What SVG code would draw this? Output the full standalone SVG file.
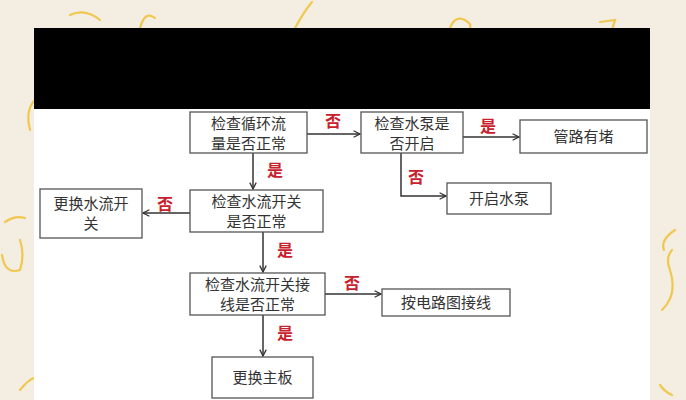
<svg xmlns="http://www.w3.org/2000/svg" width="686" height="400" viewBox="0 0 686 400">
<defs>
<marker id="ah" viewBox="0 0 10 10" refX="9" refY="5" markerWidth="8" markerHeight="8" markerUnits="userSpaceOnUse" orient="auto">
<path d="M1,1 L9,5 L1,9" fill="none" stroke="#333" stroke-width="1.6"/>
</marker>
<style>
.box{fill:#fff;stroke:#555;stroke-width:1.3}
.t{font-family:"Noto Sans CJK SC","Liberation Sans",sans-serif;font-size:15px;fill:#333;text-anchor:middle}
.lbl{font-family:"Noto Sans CJK SC","Liberation Sans",sans-serif;font-size:16px;font-weight:bold;fill:#c8202c;text-anchor:middle}
.c{fill:none;stroke:#333;stroke-width:1.5}
.sq{fill:none;stroke:#f0c850;stroke-width:2.2;stroke-linecap:round}
</style>
</defs>
<rect width="686" height="400" fill="#f3ede2"/>
<g id="squiggles">
<path class="sq" d="M70,15 Q85,8 100,20"/>
<path class="sq" d="M140,28 Q145,10 155,18"/>
<path class="sq" d="M295,28 Q305,10 312,2"/>
<path class="sq" d="M450,28 Q455,15 465,20 Q472,24 470,28"/>
<path class="sq" d="M600,22 L615,20 L612,30"/>
<path class="sq" d="M30,130 Q25,110 35,100"/>
<path class="sq" d="M5,222 Q15,215 25,218"/>
<path class="sq" d="M2,255 Q5,275 20,270 Q25,255 20,240"/>
<path class="sq" d="M20,390 Q28,380 34,378"/>
<path class="sq" d="M672,250 Q665,258 670,270 Q678,295 662,310"/>
<path class="sq" d="M675,230 Q660,240 664,250"/>
<path class="sq" d="M660,385 Q665,392 672,395"/>
</g>
<rect x="34" y="28" width="616" height="372" fill="#fff"/>
<rect x="34" y="28" width="616" height="81" fill="#000"/>
<g id="connectors">
<line class="c" x1="307" y1="134" x2="360" y2="134" marker-end="url(#ah)"/>
<line class="c" x1="463" y1="137" x2="519" y2="137" marker-end="url(#ah)"/>
<polyline class="c" points="401,153 401,196 446,196" marker-end="url(#ah)"/>
<line class="c" x1="253" y1="153" x2="253" y2="189" marker-end="url(#ah)"/>
<line class="c" x1="190" y1="213" x2="143" y2="213" marker-end="url(#ah)"/>
<line class="c" x1="263" y1="232" x2="263" y2="272" marker-end="url(#ah)"/>
<line class="c" x1="325" y1="294" x2="381" y2="294" marker-end="url(#ah)"/>
<line class="c" x1="263" y1="315" x2="263" y2="356" marker-end="url(#ah)"/>
<text class="lbl" x="333" y="127">否</text>
<text class="lbl" x="488" y="132">是</text>
<text class="lbl" x="416" y="183">否</text>
<text class="lbl" x="275" y="176">是</text>
<text class="lbl" x="165" y="210">否</text>
<text class="lbl" x="285" y="256">是</text>
<text class="lbl" x="352" y="289">否</text>
<text class="lbl" x="285" y="339">是</text>
</g>
<g id="n1"><rect class="box" x="190" y="112" width="117" height="41"/><text class="t" x="248.5" y="129">检查循环流</text><text class="t" x="248.5" y="149">量是否正常</text></g>
<g id="n2"><rect class="box" x="361" y="112" width="102" height="41"/><text class="t" x="412" y="129">检查水泵是</text><text class="t" x="412" y="149">否开启</text></g>
<g id="n3"><rect class="box" x="520" y="120" width="127" height="33"/><text class="t" x="583.5" y="142">管路有堵</text></g>
<g id="n4"><rect class="box" x="447" y="183" width="104" height="31"/><text class="t" x="499" y="204">开启水泵</text></g>
<g id="n5"><rect class="box" x="190" y="190" width="133" height="42"/><text class="t" x="256.5" y="207">检查水流开关</text><text class="t" x="256.5" y="227">是否正常</text></g>
<g id="n6"><rect class="box" x="40" y="189" width="102" height="49"/><text class="t" x="91" y="209">更换水流开</text><text class="t" x="91" y="229">关</text></g>
<g id="n7"><rect class="box" x="190" y="273" width="135" height="42"/><text class="t" x="257.5" y="290">检查水流开关接</text><text class="t" x="257.5" y="310">线是否正常</text></g>
<g id="n8"><rect class="box" x="382" y="289" width="128" height="27"/><text class="t" x="446" y="308">按电路图接线</text></g>
<g id="n9"><rect class="box" x="212" y="357" width="101" height="41"/><text class="t" x="262.5" y="383">更换主板</text></g>
</svg>
